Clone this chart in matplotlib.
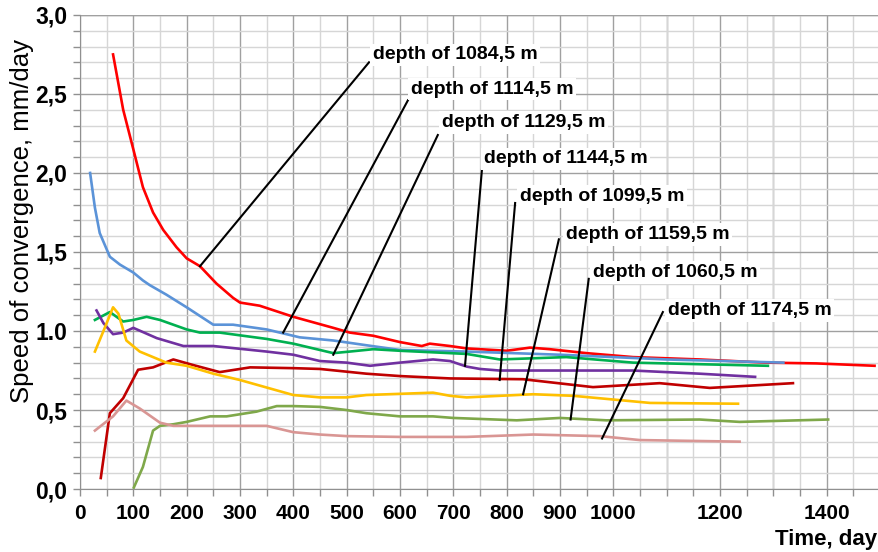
import matplotlib
matplotlib.use('Agg')
import matplotlib.pyplot as plt
from matplotlib.ticker import MultipleLocator

plt.rcParams['font.family'] = ['Liberation Sans', 'DejaVu Sans']

# series: time (day) and speed of convergence (mm/day)
d1084_t = [62, 81, 100, 118, 137, 156, 181, 200, 225, 256, 287, 300, 337, 400, 475, 506, 550, 600, 641, 656, 694, 725, 800, 844, 881, 950, 1037, 1162, 1287, 1381, 1490]
d1084_v = [2.75, 2.40, 2.15, 1.91, 1.75, 1.64, 1.53, 1.46, 1.41, 1.30, 1.21, 1.18, 1.16, 1.09, 1.02, 0.99, 0.97, 0.93, 0.905, 0.92, 0.905, 0.89, 0.875, 0.895, 0.885, 0.86, 0.835, 0.82, 0.80, 0.795, 0.78]

d1114_t = [19, 28, 37, 56, 75, 100, 118, 131, 162, 200, 250, 287, 350, 412, 475, 537, 600, 725, 900, 1100, 1319]
d1114_v = [2.0, 1.78, 1.62, 1.47, 1.42, 1.37, 1.32, 1.29, 1.23, 1.15, 1.04, 1.04, 1.01, 0.96, 0.94, 0.91, 0.88, 0.87, 0.85, 0.82, 0.80]

d1129_t = [28, 56, 81, 100, 125, 150, 200, 225, 262, 350, 400, 450, 475, 506, 550, 600, 694, 725, 787, 912, 1037, 1162, 1290]
d1129_v = [1.07, 1.12, 1.06, 1.07, 1.09, 1.07, 1.01, 0.99, 0.99, 0.95, 0.92, 0.88, 0.86, 0.87, 0.885, 0.875, 0.86, 0.855, 0.82, 0.835, 0.80, 0.79, 0.78]

d1144_t = [31, 44, 62, 81, 100, 144, 194, 250, 350, 400, 450, 500, 544, 600, 662, 694, 725, 750, 787, 1037, 1162, 1266]
d1144_v = [1.13, 1.05, 0.98, 0.99, 1.02, 0.955, 0.905, 0.905, 0.87, 0.85, 0.81, 0.80, 0.78, 0.80, 0.82, 0.81, 0.775, 0.76, 0.75, 0.75, 0.73, 0.71]

d1099_t = [39, 56, 81, 109, 137, 175, 212, 262, 319, 400, 450, 537, 600, 694, 831, 962, 1087, 1181, 1337]
d1099_v = [0.07, 0.48, 0.575, 0.755, 0.77, 0.82, 0.785, 0.74, 0.77, 0.765, 0.76, 0.73, 0.715, 0.70, 0.695, 0.645, 0.67, 0.64, 0.67]

d1159_t = [28, 44, 62, 72, 87, 112, 162, 200, 250, 300, 400, 450, 500, 537, 662, 694, 725, 850, 925, 1069, 1234]
d1159_v = [0.87, 1.0, 1.15, 1.11, 0.94, 0.87, 0.80, 0.78, 0.73, 0.69, 0.595, 0.58, 0.58, 0.595, 0.61, 0.59, 0.58, 0.60, 0.59, 0.545, 0.54]

d1060_t = [101, 118, 137, 150, 175, 200, 244, 275, 331, 369, 400, 450, 500, 537, 600, 662, 700, 819, 900, 987, 1162, 1237, 1403]
d1060_v = [0.01, 0.14, 0.37, 0.40, 0.41, 0.425, 0.46, 0.46, 0.49, 0.525, 0.525, 0.52, 0.50, 0.48, 0.46, 0.46, 0.45, 0.435, 0.45, 0.435, 0.44, 0.425, 0.44]

d1174_t = [28, 62, 87, 112, 150, 175, 225, 350, 400, 450, 500, 600, 725, 850, 975, 1050, 1237]
d1174_v = [0.37, 0.46, 0.56, 0.51, 0.42, 0.40, 0.40, 0.40, 0.36, 0.345, 0.335, 0.33, 0.33, 0.345, 0.335, 0.31, 0.30]

series = [
    (d1084_t, d1084_v, '#ff0000'),
    (d1114_t, d1114_v, '#5b93d8'),
    (d1129_t, d1129_v, '#00b050'),
    (d1144_t, d1144_v, '#7030a0'),
    (d1099_t, d1099_v, '#c00000'),
    (d1159_t, d1159_v, '#ffc000'),
    (d1060_t, d1060_v, '#7fa84a'),
    (d1174_t, d1174_v, '#d99694'),
]

labels = ['depth of 1084,5 m', 'depth of 1114,5 m', 'depth of 1129,5 m', 'depth of 1144,5 m',
          'depth of 1099,5 m', 'depth of 1159,5 m', 'depth of 1060,5 m', 'depth of 1174,5 m']
# where each leader line touches its curve
label_pts = [(225, 1.41), (381, 0.99), (475, 0.85), (722, 0.78),
             (787, 0.69), (831, 0.60), (920, 0.44), (979, 0.32)]

xtick_vals = [0, 100, 200, 300, 400, 500, 600, 700, 800, 900, 1000, 1200, 1400]
ytick_vals = [0.0, 0.5, 1.0, 1.5, 2.0, 2.5, 3.0]
ytick_text = ['0,0', '0,5', '1.0', '1,5', '2,0', '2,5', '3,0']

fig = plt.figure(figsize=(8.79, 5.52), dpi=100)
ax = fig.add_axes([0.091, 0.114, 0.910, 0.859])

for t, v, c in series:
    ax.plot(t, v, color=c, lw=1.9, solid_joinstyle='round', zorder=3)

# label text positions (data units) and leader line starts
text_pos = [(549, 2.747), (621, 2.53), (679, 2.32), (757, 2.09),
            (825, 1.85), (911, 1.61), (962, 1.37), (1102, 1.13)]
line_top = [(542, 2.70), (615, 2.46), (671, 2.24), (754, 2.03),
            (816, 1.81), (898, 1.58), (954, 1.33), (1093, 1.12)]
for lab, (px, py), (tx, ty), (lx, ly) in zip(labels, label_pts, text_pos, line_top):
    ax.plot([lx, px], [ly, py], color='black', lw=1.5, zorder=4)
    ax.text(tx, ty, lab, fontsize=14, fontweight='bold', ha='left', va='center', zorder=5,
            bbox=dict(facecolor='white', edgecolor='none', pad=2))

ax.set_xlim(0, 1500)
ax.set_ylim(0, 3.0)

ax.xaxis.set_minor_locator(MultipleLocator(50))
ax.yaxis.set_minor_locator(MultipleLocator(0.1))

ax.set_xticks(xtick_vals)
ax.set_xticklabels([str(x) for x in xtick_vals], fontsize=15, fontweight='bold')
ax.set_yticks(ytick_vals)
ax.set_yticklabels(ytick_text, fontsize=16.5, fontweight='bold')
# extra vertical grid at 1100, 1300 (no labels there)
for gx in [1100, 1300]:
    ax.axvline(gx, color='#a0a0a0', lw=1.0, zorder=0)
ax.grid(which='major', color='#a0a0a0', lw=1.0, zorder=0)
ax.grid(which='minor', color='#d6d6d6', lw=1.0, zorder=0)
ax.axhline(3.0, color='#a0a0a0', lw=1.0, zorder=0)
ax.tick_params(which='both', direction='out', color='#909090', length=5, width=1)
ax.tick_params(axis='x', pad=6)
ax.tick_params(axis='y', pad=4)

for s in ['top', 'right']:
    ax.spines[s].set_visible(False)
for s in ['left', 'bottom']:
    ax.spines[s].set_color('#909090')

fig.text(0.998, 0.022, 'Time, day', fontsize=16, fontweight='bold', ha='right', va='center')
fig.text(0.025, 0.60, 'Speed of convergence, mm/day', fontsize=18.5, rotation=90, ha='center', va='center')

fig.savefig('out.png', dpi=100)
